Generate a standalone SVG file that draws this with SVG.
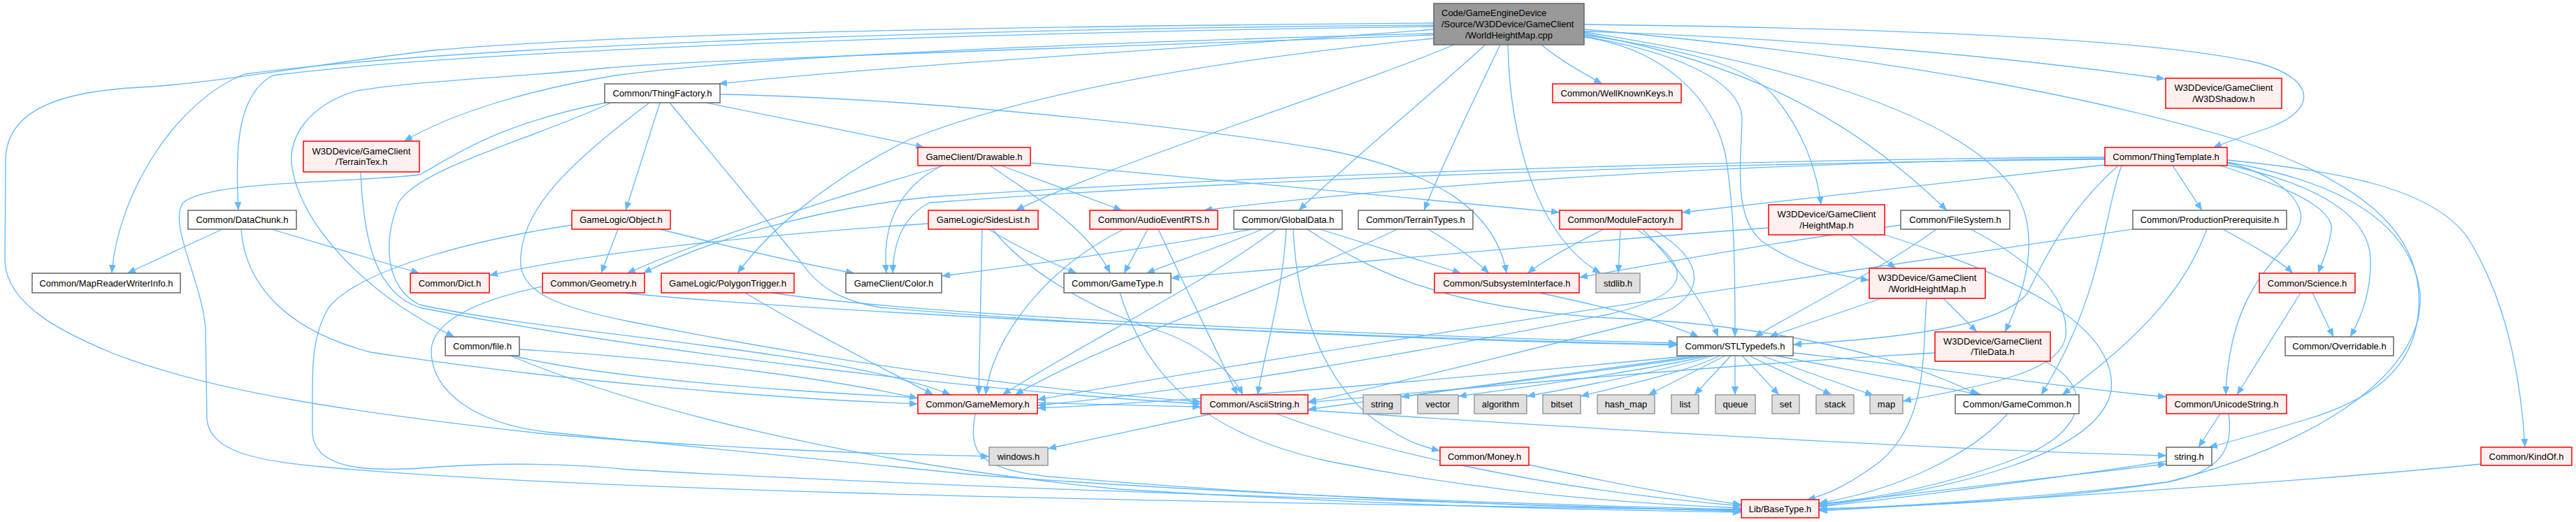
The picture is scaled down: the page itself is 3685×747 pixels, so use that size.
<svg xmlns="http://www.w3.org/2000/svg" width="3685" height="747" viewBox="0 0 3685 747">
<defs>
<marker id="a" markerWidth="13" markerHeight="10" refX="12" refY="5" orient="auto" markerUnits="userSpaceOnUse"><path d="M0,0 L12,5 L0,10 z" fill="#63b8ff"/></marker>
</defs>
<style>
text{font-family:"Liberation Sans",Arial,sans-serif;font-size:13px;fill:#000;text-anchor:middle}
.n rect{fill:#fff;stroke:#666;stroke-width:1.5}
.r rect{fill:#fff0f0;stroke:#f00;stroke-width:1.5}
.s rect{fill:#e0e0e0;stroke:#999;stroke-width:1.5}
.m rect{fill:#999;stroke:#666;stroke-width:1.5}
.e path{fill:none;stroke:#63b8ff;stroke-width:1.3;marker-end:url(#a)}
</style>
<rect width="3685" height="747" fill="#fff"/>
<g class="e" id="edges">
<path d="M2051,42 C1700,70 1250,95 1028,120"/>
<path d="M2205,64 C2230,85 2260,102 2292,120"/>
<path d="M2266,45 C2600,55 2900,85 3097,113"/>
<path d="M2266,35 C2700,40 3080,55 3230,90 C3320,115 3310,160 3245,183 C3215,193 3190,202 3166,211"/>
<path d="M2051,48 C1600,60 1100,78 880,108 C760,128 650,160 578,202"/>
<path d="M2051,38 C1500,45 700,68 390,108 C340,135 336,210 341,301"/>
<path d="M2051,36 C1500,40 700,60 350,106 C250,145 168,280 160,391"/>
<path d="M2051,33 C1400,38 900,48 620,72 C450,92 300,120 200,125 C60,132 8,170 8,230 L7,374 C10,440 100,480 160,505 C300,560 500,590 780,621 C1000,640 1250,650 1415,653"/>
<path d="M2080,64 C1950,120 1600,230 1453,301"/>
<path d="M2051,55 C1700,90 1450,140 1300,200 C1180,260 1100,330 1055,391"/>
<path d="M2125,64 C2030,150 1920,240 1858,301"/>
<path d="M2146,64 C2110,140 2070,220 2037,301"/>
<path d="M2157,64 C2160,200 2200,340 2290,391"/>
<path d="M2266,53 C2380,70 2450,140 2468,220 C2482,300 2482,400 2482,482"/>
<path d="M2266,52 C2380,72 2490,110 2492,170 C2490,240 2480,310 2520,345 C2570,380 2620,393 2674,401"/>
<path d="M2266,50 C2400,70 2500,90 2540,140 C2580,190 2598,240 2605,293"/>
<path d="M2266,48 C2500,90 2650,170 2785,301"/>
<path d="M2266,46 C2550,90 2800,160 2880,270 C2920,330 2900,410 2868,475"/>
<path d="M2266,42 C2700,80 3000,140 3200,200 C3380,260 3455,330 3460,420 C3465,520 3400,570 3300,600 C3240,618 3200,630 3160,640"/>
<path d="M2051,50 C1500,70 1000,85 870,97 C750,110 600,115 510,130 C440,150 410,200 418,240 C430,320 520,420 650,482"/>
<path d="M1011,147 C1120,170 1230,190 1322,211"/>
<path d="M944,147 L895,301"/>
<path d="M1030,135 C1300,140 1700,180 1900,215 C2050,245 2140,300 2155,391"/>
<path d="M866,147 C700,180 640,230 600,250 C500,262 300,258 262,290 C240,320 288,400 294,470 L296,600 C300,650 380,660 460,668 C800,700 1500,716 2491,730"/>
<path d="M874,147 C760,200 600,240 570,290 C548,345 550,410 600,436 C800,480 1200,500 1360,565"/>
<path d="M929,147 C820,230 740,300 745,380 C750,420 800,440 900,460 C1200,520 1500,560 1718,575"/>
<path d="M958,147 L1144,373 C1170,410 1200,430 1260,440 C1600,470 2100,488 2399,494"/>
<path d="M884,328 L860,391"/>
<path d="M944,328 C1050,355 1150,378 1222,391"/>
<path d="M818,322 C700,340 520,380 470,440 C447,480 447,520 447,560 L447,620 C450,670 520,675 600,670 C700,662 800,662 900,672 C1400,700 2000,716 2491,732"/>
<path d="M1350,237 C1200,280 1000,345 897,391"/>
<path d="M1348,237 C1280,270 1262,330 1268,391"/>
<path d="M1416,237 C1480,280 1560,330 1588,391"/>
<path d="M1432,237 L1605,301"/>
<path d="M1473,233 C1700,255 2000,280 2231,304"/>
<path d="M3108,237 L3150,301"/>
<path d="M3186,229 C3350,245 3480,270 3530,340 C3580,420 3605,520 3612,640"/>
<path d="M3186,233 C3260,250 3300,290 3290,320 C3270,370 3190,400 3184,565"/>
<path d="M3176,237 C3280,270 3340,300 3335,330 C3330,360 3322,375 3316,391"/>
<path d="M3186,236 C3300,260 3380,300 3390,360 C3395,410 3380,450 3362,482"/>
<path d="M3186,232 C3350,260 3450,320 3462,420 C3470,540 3300,640 3100,690 C2900,720 2700,726 2602,728"/>
<path d="M3011,227 C2600,230 2100,255 1722,301"/>
<path d="M3011,236 C2800,258 2600,283 2406,304"/>
<path d="M3011,225 C2500,228 1800,250 1330,282 C1150,300 1000,350 920,391"/>
<path d="M3011,228 C2500,232 1800,255 1330,290 C1290,310 1278,350 1277,391"/>
<path d="M3035,237 C3010,300 3010,420 2920,565"/>
<path d="M3030,237 C2960,300 2930,360 2900,420 C2860,470 2700,485 2565,493"/>
<path d="M1790,328 C1650,355 1450,382 1347,395"/>
<path d="M1806,328 C1740,355 1680,375 1640,391"/>
<path d="M1826,328 C1700,420 1550,490 1434,565"/>
<path d="M1840,328 C1835,420 1810,500 1799,565"/>
<path d="M1888,328 C1960,350 2030,372 2090,391"/>
<path d="M1850,328 C1855,450 1900,560 1980,610 C2010,630 2030,638 2060,645"/>
<path d="M1870,328 C1950,380 2050,440 2300,455 C2500,462 2700,500 2830,565"/>
<path d="M1999,328 C1850,400 1600,480 1452,565"/>
<path d="M2043,328 C2080,350 2110,372 2130,391"/>
<path d="M2294,328 C2250,350 2210,372 2185,391"/>
<path d="M2318,328 L2315,391"/>
<path d="M2350,328 C2400,380 2440,440 2458,482"/>
<path d="M2341,328 C2420,380 2430,420 2300,450 C2000,510 1700,560 1484,580"/>
<path d="M2365,328 C2450,380 2440,430 2350,460 C2150,510 1950,560 1871,575"/>
<path d="M1328,320 C1100,335 850,360 700,394"/>
<path d="M1405,328 L1400,565"/>
<path d="M1414,328 C1450,350 1500,375 1540,391"/>
<path d="M1420,328 C1460,380 1550,440 1660,474 C1720,495 1760,530 1778,565"/>
<path d="M1608,328 C1500,380 1420,480 1410,565"/>
<path d="M1642,328 L1608,391"/>
<path d="M1657,328 C1690,400 1740,500 1770,565"/>
<path d="M1602,419 C1640,540 1720,620 1900,660 C2100,700 2300,720 2491,727"/>
<path d="M776,410 C680,430 620,460 617,500 C615,560 680,610 800,620 C1000,640 1200,660 1400,680 C1800,710 2200,722 2491,729"/>
<path d="M890,419 C1100,440 1800,480 2399,493"/>
<path d="M1105,419 C1300,450 1900,478 2399,491"/>
<path d="M1066,419 C1150,470 1250,520 1335,565"/>
<path d="M743,500 C1000,515 1200,545 1313,570"/>
<path d="M733,509 C900,550 1300,575 1718,582"/>
<path d="M730,509 C900,580 1200,660 1600,700 C2000,725 2300,730 2491,733"/>
<path d="M2420,509 C2100,540 1700,575 1484,584"/>
<path d="M2430,509 C2200,540 2000,570 1871,586"/>
<path d="M2440,509 C2300,530 2100,555 2004,568"/>
<path d="M2446,509 C2350,530 2200,552 2086,567"/>
<path d="M2452,509 C2380,530 2280,550 2184,567"/>
<path d="M2460,509 C2420,530 2330,550 2261,567"/>
<path d="M2468,509 L2358,565"/>
<path d="M2476,509 L2424,565"/>
<path d="M2482,509 L2482,565"/>
<path d="M2492,509 L2545,565"/>
<path d="M2502,509 L2620,565"/>
<path d="M2520,509 L2680,566"/>
<path d="M2540,509 C2650,530 2750,550 2835,565"/>
<path d="M2565,505 C2800,530 2950,555 3099,568"/>
<path d="M2691,427 L2531,482"/>
<path d="M2780,427 L2828,475"/>
<path d="M2756,427 C2750,500 2760,600 2690,660 C2650,690 2620,706 2585,715"/>
<path d="M2768,505 C2500,520 2100,555 1871,576"/>
<path d="M2925,517 C2990,550 2990,610 2900,650 C2800,690 2700,712 2602,721"/>
<path d="M2872,592 C2820,650 2720,700 2602,720"/>
<path d="M2770,328 C2700,380 2580,440 2510,482"/>
<path d="M2720,322 C2550,345 2400,372 2259,397"/>
<path d="M2819,328 C2900,370 2960,420 2955,480 C2950,530 2850,550 2722,574"/>
<path d="M2530,326 C2200,350 1900,380 1675,398"/>
<path d="M2646,336 L2712,384"/>
<path d="M2696,336 C2900,400 3030,470 3020,560 C3000,650 2800,700 2602,724"/>
<path d="M2202,419 C2300,440 2380,460 2430,482"/>
<path d="M3180,328 C3220,350 3260,372 3280,391"/>
<path d="M3157,328 C3130,400 3080,470 2950,565"/>
<path d="M3051,328 C2700,380 2000,480 1484,572"/>
<path d="M3308,419 L3338,482"/>
<path d="M3291,419 L3200,565"/>
<path d="M3176,592 L3145,640"/>
<path d="M3188,592 C3195,640 3180,675 3100,690 C2900,715 2700,725 2602,729"/>
<path d="M3099,660 C2900,690 2700,715 2602,725"/>
<path d="M2602,722 C2800,700 3000,675 3099,664"/>
<path d="M2187,665 C2300,690 2400,710 2491,722"/>
<path d="M1734,592 L1499,642"/>
<path d="M1826,592 C1950,640 2200,700 2491,724"/>
<path d="M1871,587 C2300,615 2800,645 3099,652"/>
<path d="M1395,592 C1385,650 1400,670 1500,682 C1900,715 2200,725 2491,731"/>
<path d="M3549,664 C3300,690 2800,720 2602,731"/>
<path d="M318,328 L182,391"/>
<path d="M388,328 L600,391"/>
<path d="M345,328 C350,400 400,470 530,504 C800,545 1100,570 1313,578"/>
<path d="M516,246 C520,350 540,420 600,440 C900,500 1400,560 1718,578"/>
</g>
<g id="n_main" class="m"><rect x="2051" y="5" width="215" height="59"/><text x="2062" y="22.5" style="text-anchor:start">Code/GameEngineDevice</text><text x="2062" y="38.5" style="text-anchor:start">/Source/W3DDevice/GameClient</text><text x="2158.5" y="55">/WorldHeightMap.cpp</text></g>
<g id="n_thingfactory" class="n"><rect x="865" y="120" width="165" height="27"/><text x="947.5" y="138">Common/ThingFactory.h</text></g>
<g id="n_wellknownkeys" class="r"><rect x="2221" y="120" width="184" height="27"/><text x="2313" y="138">Common/WellKnownKeys.h</text></g>
<g id="n_w3dshadow" class="r"><rect x="3098" y="112" width="166" height="43"/><text x="3181" y="130">W3DDevice/GameClient</text><text x="3181" y="145.5">/W3DShadow.h</text></g>
<g id="n_terraintex" class="r"><rect x="434" y="202" width="166" height="44"/><text x="517" y="220.5">W3DDevice/GameClient</text><text x="517" y="236">/TerrainTex.h</text></g>
<g id="n_drawable" class="r"><rect x="1313" y="211" width="161" height="26"/><text x="1393.5" y="228.5">GameClient/Drawable.h</text></g>
<g id="n_thingtemplate" class="r"><rect x="3011" y="211" width="175" height="26"/><text x="3098.5" y="228.5">Common/ThingTemplate.h</text></g>
<g id="n_datachunk" class="n"><rect x="269" y="301" width="155" height="27"/><text x="346.5" y="319">Common/DataChunk.h</text></g>
<g id="n_object" class="r"><rect x="818" y="301" width="141" height="27"/><text x="888.5" y="319">GameLogic/Object.h</text></g>
<g id="n_sideslist" class="r"><rect x="1328" y="301" width="157" height="27"/><text x="1406.5" y="319">GameLogic/SidesList.h</text></g>
<g id="n_audioevent" class="r"><rect x="1559" y="301" width="183" height="27"/><text x="1650.5" y="319">Common/AudioEventRTS.h</text></g>
<g id="n_globaldata" class="n"><rect x="1765" y="301" width="155" height="27"/><text x="1842.5" y="319">Common/GlobalData.h</text></g>
<g id="n_terraintypes" class="n"><rect x="1943" y="301" width="164" height="27"/><text x="2025" y="319">Common/TerrainTypes.h</text></g>
<g id="n_modulefactory" class="r"><rect x="2231" y="301" width="175" height="27"/><text x="2318.5" y="319">Common/ModuleFactory.h</text></g>
<g id="n_heightmap" class="r"><rect x="2530" y="293" width="166" height="43"/><text x="2613" y="311">W3DDevice/GameClient</text><text x="2613" y="326.5">/HeightMap.h</text></g>
<g id="n_filesystem" class="n"><rect x="2719" y="301" width="156" height="27"/><text x="2797" y="319">Common/FileSystem.h</text></g>
<g id="n_prodprereq" class="n"><rect x="3051" y="301" width="220" height="27"/><text x="3161" y="319">Common/ProductionPrerequisite.h</text></g>
<g id="n_maprwinfo" class="n"><rect x="46" y="391" width="212" height="28"/><text x="152" y="409.5">Common/MapReaderWriterInfo.h</text></g>
<g id="n_dict" class="r"><rect x="587" y="391" width="113" height="28"/><text x="643.5" y="409.5">Common/Dict.h</text></g>
<g id="n_geometry" class="r"><rect x="776" y="391" width="146" height="28"/><text x="849" y="409.5">Common/Geometry.h</text></g>
<g id="n_polygontrigger" class="r"><rect x="946" y="391" width="190" height="28"/><text x="1041" y="409.5">GameLogic/PolygonTrigger.h</text></g>
<g id="n_color" class="n"><rect x="1210" y="391" width="137" height="28"/><text x="1278.5" y="409.5">GameClient/Color.h</text></g>
<g id="n_gametype" class="n"><rect x="1522" y="391" width="153" height="28"/><text x="1598.5" y="409.5">Common/GameType.h</text></g>
<g id="n_subsystem" class="r"><rect x="2052" y="391" width="207" height="28"/><text x="2155.5" y="409.5">Common/SubsystemInterface.h</text></g>
<g id="n_stdlib" class="s"><rect x="2283" y="391" width="63" height="28"/><text x="2314.5" y="409.5">stdlib.h</text></g>
<g id="n_worldheightmap" class="r"><rect x="2674" y="384" width="166" height="43"/><text x="2757" y="402">W3DDevice/GameClient</text><text x="2757" y="417.5">/WorldHeightMap.h</text></g>
<g id="n_science" class="r"><rect x="3232" y="391" width="137" height="28"/><text x="3300.5" y="409.5">Common/Science.h</text></g>
<g id="n_file" class="n"><rect x="637" y="482" width="106" height="27"/><text x="690" y="500">Common/file.h</text></g>
<g id="n_stltypedefs" class="n"><rect x="2399" y="482" width="166" height="27"/><text x="2482" y="500">Common/STLTypedefs.h</text></g>
<g id="n_tiledata" class="r"><rect x="2768" y="475" width="165" height="42"/><text x="2850.5" y="492.5">W3DDevice/GameClient</text><text x="2850.5" y="508">/TileData.h</text></g>
<g id="n_overridable" class="n"><rect x="3269" y="482" width="155" height="27"/><text x="3346.5" y="500">Common/Overridable.h</text></g>
<g id="n_gamememory" class="r"><rect x="1313" y="565" width="171" height="27"/><text x="1398.5" y="583">Common/GameMemory.h</text></g>
<g id="n_asciistring" class="r"><rect x="1718" y="565" width="153" height="27"/><text x="1794.5" y="583">Common/AsciiString.h</text></g>
<g id="n_string" class="s"><rect x="1950" y="565" width="54" height="27"/><text x="1977" y="583">string</text></g>
<g id="n_vector" class="s"><rect x="2028" y="565" width="58" height="27"/><text x="2057" y="583">vector</text></g>
<g id="n_algorithm" class="s"><rect x="2109" y="565" width="75" height="27"/><text x="2146.5" y="583">algorithm</text></g>
<g id="n_bitset" class="s"><rect x="2207" y="565" width="54" height="27"/><text x="2234" y="583">bitset</text></g>
<g id="n_hashmap" class="s"><rect x="2285" y="565" width="82" height="27"/><text x="2326" y="583">hash_map</text></g>
<g id="n_list" class="s"><rect x="2391" y="565" width="39" height="27"/><text x="2410.5" y="583">list</text></g>
<g id="n_queue" class="s"><rect x="2454" y="565" width="57" height="27"/><text x="2482.5" y="583">queue</text></g>
<g id="n_set" class="s"><rect x="2535" y="565" width="39" height="27"/><text x="2554.5" y="583">set</text></g>
<g id="n_stack" class="s"><rect x="2598" y="565" width="54" height="27"/><text x="2625" y="583">stack</text></g>
<g id="n_map" class="s"><rect x="2675" y="565" width="47" height="27"/><text x="2698.5" y="583">map</text></g>
<g id="n_gamecommon" class="n"><rect x="2797" y="565" width="177" height="27"/><text x="2885.5" y="583">Common/GameCommon.h</text></g>
<g id="n_unicodestring" class="r"><rect x="3099" y="565" width="172" height="27"/><text x="3185" y="583">Common/UnicodeString.h</text></g>
<g id="n_windows" class="s"><rect x="1415" y="640" width="84" height="26"/><text x="1457" y="657.5">windows.h</text></g>
<g id="n_money" class="r"><rect x="2060" y="640" width="127" height="26"/><text x="2123.5" y="657.5">Common/Money.h</text></g>
<g id="n_stringh" class="n"><rect x="3099" y="640" width="65" height="26"/><text x="3131.5" y="657.5">string.h</text></g>
<g id="n_kindof" class="r"><rect x="3549" y="640" width="130" height="26"/><text x="3614" y="657.5">Common/KindOf.h</text></g>
<g id="n_basetype" class="r"><rect x="2491" y="715" width="111" height="26"/><text x="2546.5" y="732.5">Lib/BaseType.h</text></g>
</svg>
